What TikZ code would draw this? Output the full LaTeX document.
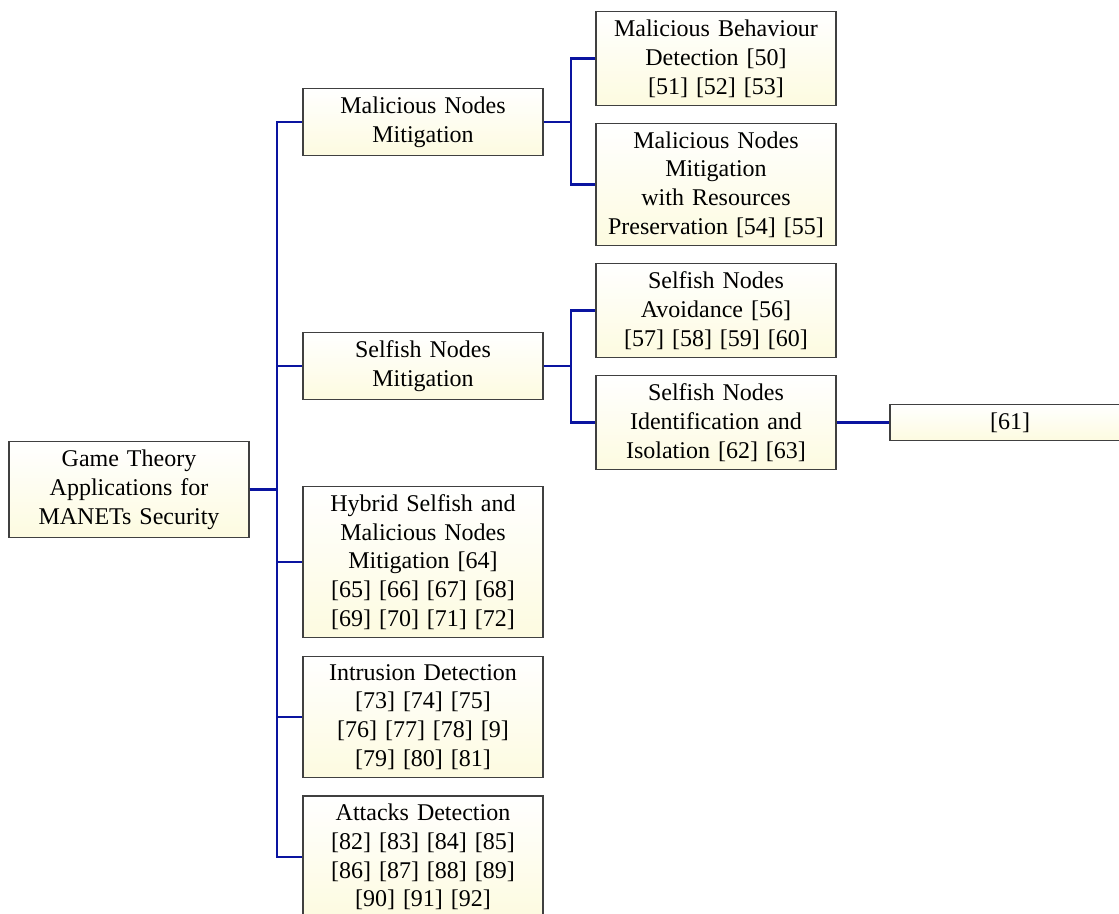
\documentclass[tikz,border=0pt]{standalone}
\usepackage{fontspec}
\setmainfont{Liberation Serif}
\usepackage{tikz}
\usetikzlibrary{positioning}
\definecolor{linkblue}{HTML}{0A14A0}
\definecolor{boxline}{HTML}{404040}
\definecolor{boxfill}{HTML}{FDFBE0}

\tikzset{
  topic/.style={draw=boxline, line width=0.5pt, top color=white, bottom color=boxfill,
    text width=92pt, inner xsep=4pt, inner ysep=3.3pt, align=center},
  link/.style={linkblue, line width=0.9pt}
}

\begin{document}
\begin{tikzpicture}[x=0.4167pt, y=-0.4167pt]
    \useasboundingbox (0,0) rectangle (1119,913);
    \clip (0,0) rectangle (1119,913);
    % root and first level
    \node[topic] (root) at (129,489.5) {Game Theory\\Applications for\\MANETs Security};
    \node[topic] (mal) at (423,122) {Malicious Nodes\\Mitigation};
    \node[topic] (self) at (423,366) {Selfish Nodes\\Mitigation};
    \node[topic] (hyb) at (423,562) {Hybrid Selfish and\\Malicious Nodes\\Mitigation [64]\\{}[65] [66] [67] [68]\\{}[69] [70] [71] [72]};
    \node[topic] (ids) at (423,717) {Intrusion Detection\\{}[73] [74] [75]\\{}[76] [77] [78] [9]\\{}[79] [80] [81]};
    \node[topic] (atk) at (423,857) {Attacks Detection\\{}[82] [83] [84] [85]\\{}[86] [87] [88] [89]\\{}[90] [91] [92]};
    % second level
    \node[topic] (malbeh) at (716,58.5) {Malicious Behaviour\\Detection [50]\\{}[51] [52] [53]};
    \node[topic] (malres) at (716,184.5) {Malicious Nodes\\Mitigation\\with Resources\\Preservation [54] [55]};
    \node[topic] (selfav) at (716,310.5) {Selfish Nodes\\Avoidance [56]\\{}[57] [58] [59] [60]};
    \node[topic] (selfid) at (716,422.5) {Selfish Nodes\\Identification and\\Isolation [62] [63]};
    % third level
    \node[topic] (ref61) at (1010,422.5) {[61]};

    \foreach \child in {mal, self, hyb, ids, atk}
      \draw[link] (root.east) -- ++(27,0) |- (\child.west);
    \foreach \child in {malbeh, malres}
      \draw[link] (mal.east) -- ++(27,0) |- (\child.west);
    \foreach \child in {selfav, selfid}
      \draw[link] (self.east) -- ++(27,0) |- (\child.west);
    \draw[link] (selfid.east) -- (ref61.west);
\end{tikzpicture}
\end{document}
